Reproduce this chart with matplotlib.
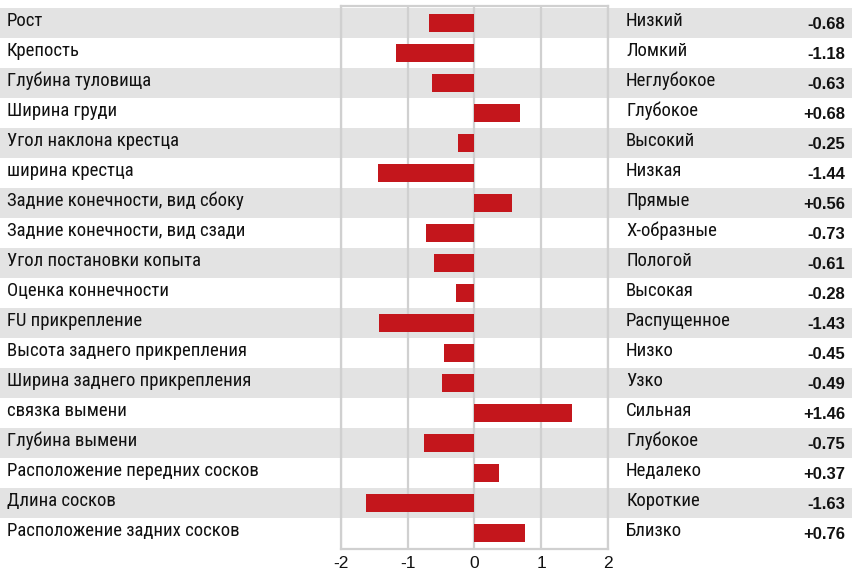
import matplotlib
matplotlib.use("Agg")
import matplotlib.pyplot as plt
from matplotlib.patches import Rectangle
from matplotlib.transforms import blended_transform_factory

traits = ["Рост", "Крепость", "Глубина туловища", "Ширина груди",
          "Угол наклона крестца", "ширина крестца",
          "Задние конечности, вид сбоку", "Задние конечности, вид сзади",
          "Угол постановки копыта", "Оценка коннечности", "FU прикрепление",
          "Высота заднего прикрепления", "Ширина заднего прикрепления",
          "связка вымени", "Глубина вымени", "Расположение передних сосков",
          "Длина сосков", "Расположение задних сосков"]
opposites = ["Низкий", "Ломкий", "Неглубокое", "Глубокое", "Высокий", "Низкая",
             "Прямые", "Х-образные", "Пологой", "Высокая", "Распущенное",
             "Низко", "Узко", "Сильная", "Глубокое", "Недалеко", "Короткие",
             "Близко"]
values = [-0.68, -1.18, -0.63, 0.68, -0.25, -1.44, 0.56, -0.73, -0.61, -0.28,
          -1.43, -0.45, -0.49, 1.46, -0.75, 0.37, -1.63, 0.76]
ticks = [-2, -1, 0, 1, 2]

narrow = ["Liberation Sans Narrow", "Roboto Condensed", "DejaVu Sans"]
regular = ["Liberation Sans", "DejaVu Sans"]

W, H = 862, 571
fig = plt.figure(figsize=(W / 100, H / 100), dpi=100)
# box of the bar chart in pixels: x 341..608, y 6..549 from top
ax = fig.add_axes([341 / W, 22 / H, 267 / W, 543 / H])
ax.patch.set_alpha(0)

n = len(traits)
pad_top = 2 / 30
pad_bot = 1 / 30
ax.set_ylim(n - 0.5 + pad_bot, -0.5 - pad_top)
ax.set_xlim(-2, 2)

trans = blended_transform_factory(fig.transFigure, ax.transData)

for i in range(n):
    if i % 2 == 0:
        ax.add_patch(Rectangle((0, i - 0.5), 852 / W, 1, transform=trans,
                               facecolor="#e3e3e3", edgecolor="none",
                               clip_on=False, zorder=0))
    ax.text(7 / W, i - 0.07, traits[i], transform=trans, ha="left",
            va="center", fontsize=13.5, family=narrow, color="#111111")
    ax.text(626 / W, i - 0.07, opposites[i], transform=trans, ha="left",
            va="center", fontsize=13.5, family=narrow, color="#111111")
    ax.text(845 / W, i + 0.06, f"{values[i]:+.2f}", transform=trans,
            ha="right", va="center", fontsize=12, fontweight="bold",
            family=regular, color="#111111")

ax.barh(range(n), values, height=0.6, color="#c4161c", zorder=3)

ax.set_xticks(ticks)
ax.set_xticklabels([str(t) for t in ticks], family=regular, fontsize=12.5)
ax.set_yticks([])
ax.tick_params(axis="x", length=0, pad=5, colors="#111111")
ax.grid(axis="x", color="#d0d0d0", linewidth=1.6, zorder=1)
ax.set_axisbelow(True)
for s in ax.spines.values():
    s.set_color("#d0d0d0")
    s.set_linewidth(1.6)

fig.savefig("out.png", dpi=100)
